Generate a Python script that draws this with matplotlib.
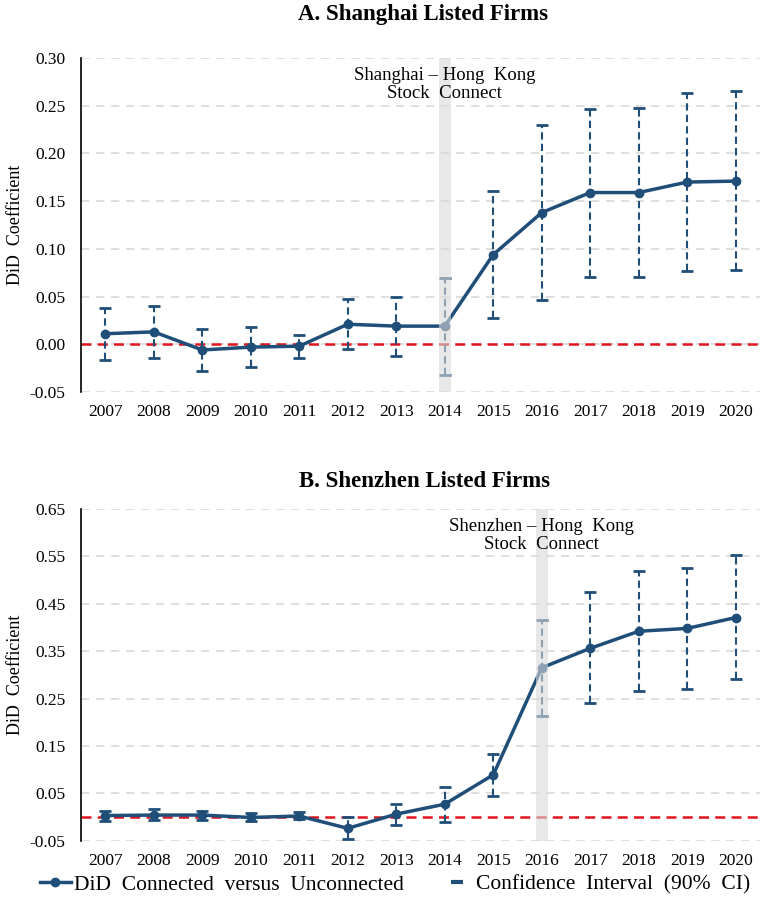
import numpy as np
import matplotlib.pyplot as plt
from matplotlib.lines import Line2D

plt.rcParams['font.family'] = ['Liberation Serif', 'DejaVu Serif']

years = list(range(2007, 2021))

# panel A: Shanghai
sh_coef = [0.011, 0.013, -0.006, -0.003, -0.002, 0.021, 0.019, 0.019, 0.094, 0.138, 0.159, 0.159, 0.170, 0.171]
sh_hi = [0.038, 0.040, 0.016, 0.018, 0.010, 0.047, 0.050, 0.069, 0.161, 0.230, 0.247, 0.248, 0.263, 0.265]
sh_lo = [-0.017, -0.014, -0.028, -0.024, -0.014, -0.005, -0.012, -0.032, 0.028, 0.046, 0.071, 0.070, 0.077, 0.078]

# panel B: Shenzhen
sz_coef = [0.003, 0.004, 0.004, -0.001, 0.002, -0.024, 0.006, 0.027, 0.089, 0.315, 0.356, 0.392, 0.398, 0.421]
sz_hi = [0.013, 0.016, 0.013, 0.008, 0.010, -0.001, 0.027, 0.064, 0.133, 0.416, 0.474, 0.520, 0.525, 0.553]
sz_lo = [-0.008, -0.006, -0.006, -0.008, -0.005, -0.047, -0.018, -0.011, 0.044, 0.213, 0.240, 0.266, 0.270, 0.291]

blue = '#1f4e79'
fig = plt.figure(figsize=(7.6, 9.24), dpi=100)


def panel(ax, coef, lo, hi, yticks, event, label, label_y):
    coef = np.array(coef)
    yerr = [coef - np.array(lo), np.array(hi) - coef]
    ax.set_xlim(2006.5, 2020.5)
    ax.set_ylim(yticks[0], yticks[-1])
    ax.set_yticks(yticks)
    ax.set_yticklabels(['%.2f' % t for t in yticks])
    ax.set_xticks(years)
    ax.grid(axis='y', color='#d9d9d9', ls=(0, (5, 4)), lw=1.2)
    ax.set_axisbelow(True)
    for s in ['top', 'right', 'bottom']:
        ax.spines[s].set_visible(False)
    ax.spines['left'].set_linewidth(1.2)
    ax.tick_params(length=0, labelsize=12.5)
    ax.tick_params(axis='y', pad=11)
    ax.tick_params(axis='x', pad=9)
    ax.axhline(0, color='#e0141e', ls=(0, (4, 2.5)), lw=1.8, zorder=2)
    eb = ax.errorbar(years, coef, yerr=yerr, fmt='none', ecolor=blue,
                     elinewidth=1.5, capsize=4.5, capthick=2, zorder=3)
    eb[2][0].set_linestyle((0, (3.5, 2)))
    ax.plot(years, coef, color=blue, lw=2.5, marker='o', ms=6, zorder=4)
    ax.axvspan(event - 0.12, event + 0.12, color='#d9d9d9', alpha=0.6, lw=0, zorder=5)
    ax.text(event, label_y, label, ha='center', va='top', fontsize=13.5,
            linespacing=1.1, zorder=6)
    fig.text(0.02, (ax.get_position().y0 + ax.get_position().y1) / 2, 'DiD  Coefficient',
             rotation=90, ha='center', va='center', fontsize=13)


ax1 = fig.add_axes([0.1066, 0.5758, 0.8934, 0.3614])
panel(ax1, sh_coef, sh_lo, sh_hi, np.round(np.arange(-0.05, 0.301, 0.05), 2), 2014,
      'Shanghai – Hong  Kong\nStock  Connect', 0.291)

ax2 = fig.add_axes([0.1066, 0.0902, 0.8934, 0.3589])
panel(ax2, sz_coef, sz_lo, sz_hi, np.round(np.arange(-0.05, 0.651, 0.10), 2), 2016,
      'Shenzhen – Hong  Kong\nStock  Connect', 0.632)

fig.text(0.557, 0.9838, 'A. Shanghai Listed Firms', ha='center', va='center',
         fontsize=16.5, fontweight='bold')
fig.text(0.558, 0.4794, 'B. Shenzhen Listed Firms', ha='center', va='center',
         fontsize=16.5, fontweight='bold')

handles = [Line2D([], [], color=blue, lw=2.5, marker='o', ms=6),
           Line2D([], [], color=blue, lw=0, marker='_', ms=9, mew=3)]
fig.legend(handles, ['DiD  Connected  versus  Unconnected', 'Confidence  Interval  (90%  CI)'],
           loc='center', bbox_to_anchor=(0.52, 0.0425), ncol=2, frameon=False,
           fontsize=15.5, handlelength=1.4, handletextpad=0.15, columnspacing=1.8)

fig.savefig('out.png', dpi=100)
